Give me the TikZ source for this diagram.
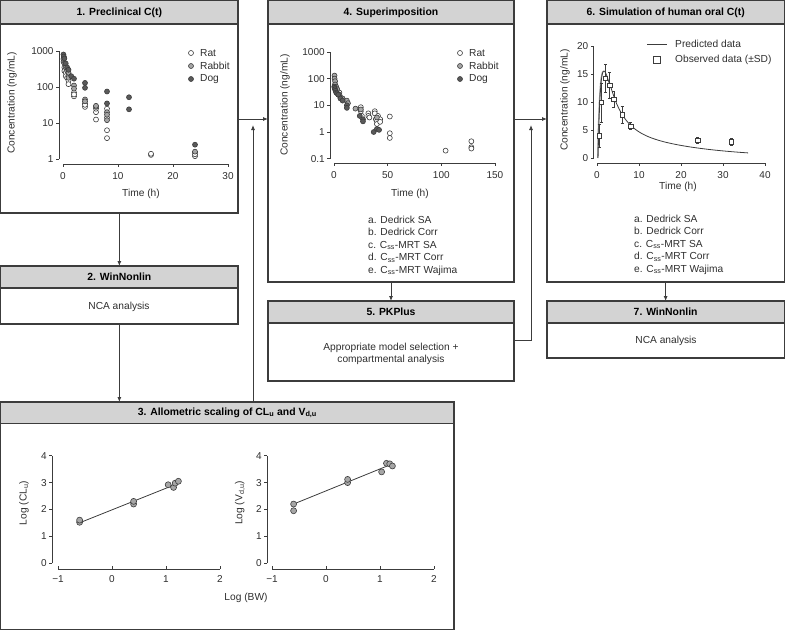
\documentclass[tikz,border=0pt]{standalone}
\usepackage{fontspec}
\setmainfont{Liberation Sans}
\usetikzlibrary{arrows.meta}
\definecolor{linec}{HTML}{3C3C3C}
\definecolor{headc}{HTML}{D3D3D3}
\definecolor{rabbitc}{HTML}{A6A6A6}
\definecolor{dogc}{HTML}{5A5A5A}

\begin{document}
\begin{tikzpicture}[x=1pt, y=-1pt,
    box/.style={draw=linec, line width=1.1pt, inner sep=0pt, outer sep=0pt, anchor=north west},
    headbox/.style={box, fill=headc, minimum height=23pt, font=\bfseries\fontsize{10.4}{12}\selectfont},
    txt/.style={inner sep=0pt, text=black!82, font=\fontsize{10.2}{12.4}\selectfont},
    tick/.style={txt, font=\fontsize{10}{11}\selectfont},
    axis/.style={draw=linec, line width=0.7pt},
    arr/.style={draw=linec, line width=0.8pt, -{Latex[length=5pt,width=4pt]}},
    rat/.style={circle, draw=linec, fill=white, line width=0.6pt, inner sep=0pt, minimum size=5pt},
    rabbit/.style={rat, fill=rabbitc},
    dog/.style={rat, fill=dogc},
    obs/.style={rectangle, draw=linec, fill=white, line width=0.6pt, inner sep=0pt, minimum size=4.4pt},
    fitline/.style={draw=linec, line width=0.8pt}]
  \useasboundingbox (0,0) rectangle (785,630);

  % 1. preclinical C(t)
  \node[box, minimum width=237.3pt, minimum height=212.3pt] (p1) at (0.7,0.7) {};
  \node[headbox, minimum width=237.3pt, minimum height=23.3pt] (h1) at (p1.north west) {1. Preclinical C(t)};
  \begin{scope}[shift={(63,159)}, x=5.5pt, y=36pt]
    \draw[axis] (-0.75,0) -- (-0.75,3);
    \foreach \v [count=\i] in {1,10,100,1000}
      \draw[axis] (-0.75,\i-1) -- ++(-3pt,0) node[tick, left=2pt] (ya\i) {\v};
    \draw[axis] (0,-0.14) -- (30,-0.14);
    \foreach \v [count=\i] in {0,10,20,30}
      \draw[axis] (\v,-0.14) -- ++(0,-3pt) node[tick, below=5pt] (xa\i) {\v};
    \foreach \t/\c [count=\i] in {0.25/350,0.25/280,0.5/250,0.5/200,0.75/180,1/150,1/120,1/200,
        2/70,2/55,2/62,4/35,4/28,4/32,6/20,6/12.5,6/25,8/25,8/14,8/6.3,8/3.8,16/1.3,16/1.4,
        24/1.2,24/1.5,24/1.35}
      \node[rat] (ar\i) at (\t,{log10(\c)}) {};
    \foreach \t/\c [count=\i] in {0.08/600,0.1/500,0.25/450,0.5/350,0.75/280,1/250,1/180,
        2/110,2/90,4/45,4/40,6/28,6/30,8/20,8/17,8/12,24/1.6}
      \node[rabbit] (ab\i) at (\t,{log10(\c)}) {};
    \foreach \t/\c [count=\i] in {0.08/800,0.15/700,0.25/620,0.5/450,0.75/350,1/300,1.5/200,
        2/170,4/130,4/95,8/75,8/35,12/52,12/24,24/2.5}
      \node[dog] (ad\i) at (\t,{log10(\c)}) {};
  \end{scope}
  \node[txt, rotate=90] (yl1) at (12,103) {Concentration (ng/mL)};
  \node[txt] (xl1) at (141,194) {Time (h)};
  \node[rat] (lr1) at (191,53) {};
  \node[rabbit] (lb1) at (191,66) {};
  \node[dog] (ld1) at (191,79) {};
  \node[txt, anchor=west] (tr1) at (200,53) {Rat};
  \node[txt, anchor=west] (tb1) at (200,66) {Rabbit};
  \node[txt, anchor=west] (td1) at (200,79) {Dog};

  % 2. WinNonlin
  \node[box, minimum width=237.3pt, minimum height=58pt] (p2) at (0.7,266) {};
  \node[headbox, minimum width=237.3pt, minimum height=22pt] (h2) at (p2.north west) {2. WinNonlin};
  \node[txt] (n2) at (119,307) {NCA analysis};

  % 4. superimposition
  \node[box, minimum width=246pt, minimum height=281.3pt] (p4) at (268,0.7) {};
  \node[headbox, minimum width=246pt, minimum height=23.3pt] (h4) at (p4.north west) {4. Superimposition};
  \begin{scope}[shift={(334,132)}, x=1.073pt, y=26.7pt]
    \draw[axis] (-3.7,-1) -- (-3.7,3);
    \foreach \v [count=\i] in {0.1,1,10,100,1000}
      \draw[axis] (-3.7,\i-2) -- ++(-3pt,0) node[tick, left=2pt] (yb\i) {\v};
    \draw[axis] (0,-1.16) -- (150,-1.16);
    \foreach \v [count=\i] in {0,50,100,150}
      \draw[axis] (\v,-1.16) -- ++(0,-3pt) node[tick, below=5pt] (xb\i) {\v};
    \foreach \t/\c [count=\i] in {1/60,1/40,2/35,3/30,4/25,5/30,6/20,25/8.5,25/6,26/4,32/5,
        32/4,33/3.5,38/6,38/5,39/3,40/2.5,40/2,41/4,43/3,43/2.4,52/3.8,52/0.9,52/0.6,
        104/0.2,128/0.45,128/0.27,128/0.24}
      \node[rat] (br\i) at (\t,{log10(\c)}) {};
    \foreach \t/\c [count=\i] in {0.5/130,0.5/100,1/80,1/60,2/50,3/40,5/25,8/18,12/15,
        13/12,20/7.5,25/7,40/3.5}
      \node[rabbit] (bb\i) at (\t,{log10(\c)}) {};
    \foreach \t/\c [count=\i] in {0.25/50,0.5/45,1/40,1.5/35,2/30,3/28,4/25,6/18,8/15,
        12/10,12/8,24/4,27/3,27/2.5,37/1,40/1.3,42/1.2}
      \node[dog] (bd\i) at (\t,{log10(\c)}) {};
  \end{scope}
  \node[txt, rotate=90] (yl4) at (285,105) {Concentration (ng/mL)};
  \node[txt] (xl4) at (410,194) {Time (h)};
  \node[rat] (lr4) at (460,53) {};
  \node[rabbit] (lb4) at (460,66) {};
  \node[dog] (ld4) at (460,79) {};
  \node[txt, anchor=west] (tr4) at (469,53) {Rat};
  \node[txt, anchor=west] (tb4) at (469,66) {Rabbit};
  \node[txt, anchor=west] (td4) at (469,79) {Dog};
  \node[txt, align=left, anchor=north west] (m4) at (368,216) {a. Dedrick SA\\ b. Dedrick Corr\\
    c. C\textsubscript{ss}-MRT SA\\ d. C\textsubscript{ss}-MRT Corr\\ e. C\textsubscript{ss}-MRT Wajima};

  % 5. PKPlus
  \node[box, minimum width=246pt, minimum height=80pt] (p5) at (268,301) {};
  \node[headbox, minimum width=246pt, minimum height=22pt] (h5) at (p5.north west) {5. PKPlus};
  \node[txt, align=center] (n5) at (391,354) {Appropriate model selection +\\ compartmental analysis};

  % 6. human oral C(t)
  \node[box, minimum width=237.3pt, minimum height=281.3pt] (p6) at (547,0.7) {};
  \node[headbox, minimum width=237.3pt, minimum height=23.3pt] (h6) at (p6.north west) {6. Simulation of human oral C(t)};
  \begin{scope}[shift={(597,158)}, x=4.2pt, y=5.6pt]
    \draw[axis] (-0.8,0) -- (-0.8,20);
    \foreach \v [count=\i] in {0,5,10,15,20}
      \draw[axis] (-0.8,\v) -- ++(-3pt,0) node[tick, left=2pt] (yc\i) {\v};
    \draw[axis] (0,-0.9) -- (40,-0.9);
    \foreach \v [count=\i] in {0,10,20,30,40}
      \draw[axis] (\v,-0.9) -- ++(0,-3pt) node[tick, below=5pt] (xc\i) {\v};
    \fill[black!40] plot[domain=0:1.6, samples=25]
        (\x, {18.9*exp(-0.326*\x)+6.7*exp(-0.056*\x)-25.6*exp(-1.62*\x)})
      -- plot[domain=1.6:0.25, samples=25]
        (\x, {18.9*exp(-0.326*(\x-0.25))+6.7*exp(-0.056*(\x-0.25))-25.6*exp(-1.62*(\x-0.25))})
      -- cycle;
    \draw[fitline] plot[domain=0.25:3, samples=40]
        (\x, {18.9*exp(-0.326*(\x-0.25))+6.7*exp(-0.056*(\x-0.25))-25.6*exp(max(-9,-1.62*(\x-0.25)))})
      -- plot[domain=3:36, samples=60]
        (\x, {18.9*exp(max(-9,-0.326*(\x-0.25)))+6.7*exp(-0.056*(\x-0.25))});
    \foreach \t/\c/\s [count=\i] in {0.5/4/2,1/9.9/3.5,2/14.2/2.5,3/13/2.3,4/10.5/1.4,6/7.7/1.5,
        8/5.7/0.6,24/3.2/0.5,32/2.9/0.6} {
      \draw[axis, line width=0.6pt] (\t,\c-\s) -- (\t,\c+\s)
        (\t,\c-\s) ++(-1.5pt,0) -- ++(3pt,0) (\t,\c+\s) ++(-1.5pt,0) -- ++(3pt,0);
      \node[obs] (o\i) at (\t,\c) {};
    }
  \end{scope}
  \node[txt, rotate=90] (yl6) at (565,100) {Concentration (ng/mL)};
  \node[txt] (xl6) at (678,187) {Time (h)};
  \draw[fitline] (647,44) -- (667,44);
  \node[obs, minimum size=6.5pt] (lo6) at (657,60) {};
  \node[txt, anchor=west] (tp6) at (675,44) {Predicted data};
  \node[txt, anchor=west] (to6) at (675,60) {Observed data (±SD)};
  \node[txt, align=left, anchor=north west] (m6) at (634,215) {a. Dedrick SA\\ b. Dedrick Corr\\
    c. C\textsubscript{ss}-MRT SA\\ d. C\textsubscript{ss}-MRT Corr\\ e. C\textsubscript{ss}-MRT Wajima};

  % 7. WinNonlin
  \node[box, minimum width=237.3pt, minimum height=57pt] (p7) at (547,301) {};
  \node[headbox, minimum width=237.3pt, minimum height=22pt] (h7) at (p7.north west) {7. WinNonlin};
  \node[txt] (n7) at (666,341) {NCA analysis};

  % 3. allometric scaling
  \node[box, minimum width=453.3pt, minimum height=227.3pt] (p3) at (0.7,402) {};
  \node[headbox, minimum width=453.3pt, minimum height=21.5pt] (h3) at (p3.north west)
    {3. Allometric scaling of CL\textsubscript{u} and V\textsubscript{d,u}};
  \begin{scope}[shift={(112,563)}, x=54pt, y=26.8pt]
    \draw[axis] (-1.11,0) -- (-1.11,4);
    \foreach \v [count=\i] in {0,1,2,3,4}
      \draw[axis] (-1.11,\v) -- ++(-3pt,0) node[tick, left=2pt] (yd\i) {\v};
    \draw[axis] (-1,-0.22) -- (2,-0.22);
    \foreach \v/\l [count=\i] in {-1/−1,0/0,1/1,2/2}
      \draw[axis] (\v,-0.22) -- ++(0,3pt) node[tick, below=9pt] (xd\i) {\l};
    \draw[fitline] (-0.6,1.5) -- (1.2,2.95);
    \foreach \u/\w [count=\i] in {-0.6/1.52,-0.6/1.6,0.4/2.2,0.4/2.3,1.04/2.92,1.14/2.82,
        1.17/2.98,1.23/3.05}
      \node[rabbit, minimum size=6pt] (cl\i) at (\u,\w) {};
  \end{scope}
  \begin{scope}[shift={(326,563)}, x=54pt, y=26.8pt]
    \draw[axis] (-1.09,0) -- (-1.09,4);
    \foreach \v [count=\i] in {0,1,2,3,4}
      \draw[axis] (-1.09,\v) -- ++(-3pt,0) node[tick, left=2pt] (ye\i) {\v};
    \draw[axis] (-1,-0.22) -- (2,-0.22);
    \foreach \v/\l [count=\i] in {-1/−1,0/0,1/1,2/2}
      \draw[axis] (\v,-0.22) -- ++(0,3pt) node[tick, below=9pt] (xe\i) {\l};
    \draw[fitline] (-0.6,2.2) -- (1.17,3.65);
    \foreach \u/\w [count=\i] in {-0.6/2.2,-0.6/1.95,0.4/3.0,0.4/3.12,1.03/3.4,1.12/3.72,
        1.18/3.7,1.23/3.62}
      \node[rabbit, minimum size=6pt] (vd\i) at (\u,\w) {};
  \end{scope}
  \node[txt, rotate=90] (yl3a) at (24,503) {Log (CL\textsubscript{u})};
  \node[txt, rotate=90] (yl3b) at (240,503) {Log (V\textsubscript{d,u})};
  \node[txt] (xl3) at (246,598) {Log (BW)};

  % connectors
  \coordinate (j1) at (253,119);
  \coordinate (j2) at (531,119);
  \coordinate (k2) at (531,340);
  \draw[arr] (p1.south) -- (p2.north);
  \draw[arr] (p2.south) -- (p2.south |- p3.north);
  \draw[arr] (p1.east |- j1) -- (p4.west |- j1);
  \draw[arr] (p3.north -| j1) -- ([yshift=-6pt]j1);
  \draw[arr] (p4.south) -- (p5.north);
  \draw[arr] (p4.east |- j2) -- (p6.west |- j2);
  \draw[arr] (p5.east |- k2) -- (k2) -- ([yshift=-6pt]j2);
  \draw[arr] (p6.south) -- (p7.north);
\end{tikzpicture}
\end{document}
